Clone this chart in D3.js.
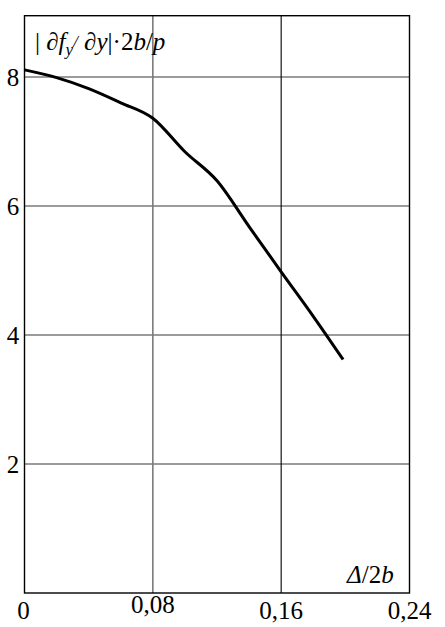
<!DOCTYPE html>
<html>
<head>
<meta charset="utf-8">
<script src="https://cdn.jsdelivr.net/npm/d3@7"></script>
<style>
  text, tspan { font-family: 'Liberation Serif'; }
</style>
</head>
<body style="margin:0">
<svg id="chart" width="445" height="627"></svg>
<script>
// data
var xs = [0, 0.02, 0.04, 0.06, 0.08, 0.10, 0.12, 0.14, 0.16, 0.18, 0.1986];
var ys = [8.11, 7.99, 7.82, 7.6, 7.36, 6.84, 6.39, 5.68, 4.98, 4.29, 3.62];
var xTicks = [0.08, 0.16];
var yTicks = [2, 4, 6, 8];
var xTickLabels = ['0', '0,08', '0,16', '0,24'];
var xTickValues = [0, 0.08, 0.16, 0.24];

var svg = d3.select('#chart');

var x = d3.scaleLinear().domain([0, 0.24]).range([24.5, 409.5]);
var y = d3.scaleLinear().domain([0, 8.95]).range([593, 15.7]);

// horizontal grid
svg.selectAll('.hgrid')
	.data(yTicks)
	.enter().append('line')
		.attr('class', 'hgrid')
		.attr('x1', x(0)).attr('x2', x(0.24))
		.attr('y1', function(d) { return y(d); })
		.attr('y2', function(d) { return y(d); })
		.attr('stroke', '#7a7a7a')
		.attr('stroke-width', 1.6);

// vertical grid: first one grey, second one black
svg.selectAll('.vgrid')
	.data(xTicks)
	.enter().append('line')
		.attr('class', 'vgrid')
		.attr('x1', function(d) { return x(d); })
		.attr('x2', function(d) { return x(d); })
		.attr('y1', y(8.95)).attr('y2', y(0))
		.attr('stroke', function(d, i) { return i === 0 ? '#7a7a7a' : '#000'; })
		.attr('stroke-width', function(d, i) { return i === 0 ? 1.6 : 1.1; });

// frame
svg.append('rect')
	.attr('x', x(0)).attr('y', y(8.95))
	.attr('width', x(0.24) - x(0))
	.attr('height', y(0) - y(8.95))
	.attr('fill', 'none')
	.attr('stroke', '#000')
	.attr('stroke-width', 1.4);

// curve
var line = d3.line()
	.x(function(d) { return x(d[0]); })
	.y(function(d) { return y(d[1]); })
	.curve(d3.curveMonotoneX);

svg.append('path')
	.datum(d3.zip(xs, ys))
	.attr('d', line)
	.attr('fill', 'none')
	.attr('stroke', '#000')
	.attr('stroke-width', 3);

// y tick labels
svg.selectAll('.ylab')
	.data(yTicks)
	.enter().append('text')
		.attr('class', 'ylab')
		.attr('x', 13)
		.attr('y', function(d) { return y(d) + 9; })
		.attr('text-anchor', 'middle')
		.attr('font-size', 25)
		.style('font-family', 'Liberation Serif')
		.text(function(d) { return d; });

// x tick labels (0,08 sits a bit higher in the original)
svg.selectAll('.xlab')
	.data(xTickValues)
	.enter().append('text')
		.attr('class', 'xlab')
		.attr('x', function(d) { return x(d) - (d === 0 ? 1 : 0); })
		.attr('y', function(d, i) { return i === 1 ? 613 : 619; })
		.attr('text-anchor', 'middle')
		.attr('font-size', 25)
		.style('font-family', 'Liberation Serif')
		.text(function(d, i) { return xTickLabels[i]; });

// y axis title
var yt = svg.append('text')
	.attr('x', 35)
	.attr('y', 50)
	.attr('font-size', 25)
	.style('font-family', 'Liberation Serif');
yt.append('tspan').text('| ');
yt.append('tspan').attr('font-style', 'italic').text('∂f');
yt.append('tspan').attr('font-style', 'italic').attr('font-size', 17).attr('dy', 5).text('y');
yt.append('tspan').attr('font-style', 'italic').attr('font-size', 17).attr('dy', -8).text('/');
yt.append('tspan').attr('dy', 3).text(' ');
yt.append('tspan').attr('font-style', 'italic').text('∂y');
yt.append('tspan').text('|·2');
yt.append('tspan').attr('font-style', 'italic').text('b');
yt.append('tspan').text('/');
yt.append('tspan').attr('font-style', 'italic').text('p');

// x axis title
var xt = svg.append('text')
	.attr('x', 347)
	.attr('y', 583)
	.attr('font-size', 25)
	.style('font-family', 'Liberation Serif');
xt.append('tspan').attr('font-style', 'italic').text('Δ');
xt.append('tspan').text('/2');
xt.append('tspan').attr('font-style', 'italic').text('b');
</script>
</body>
</html>
